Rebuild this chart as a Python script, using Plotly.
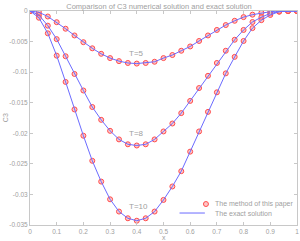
import plotly.graph_objects as go

x_vals = [i / 30 for i in range(31)]

c3_T5 = [0, -0.0002, -0.0009, -0.00183, -0.0029, -0.0040, -0.0051, -0.0061, -0.0070, -0.0077,
         -0.0082, -0.0085, -0.0086, -0.0085, -0.0083, -0.0077, -0.0072, -0.0065, -0.0058, -0.0049,
         -0.0040, -0.0031, -0.0023, -0.0016, -0.0010, -0.0006, -0.0003, -0.00012, 0, 0, 0]
c3_T8 = [0, -0.00065, -0.0024, -0.0046, -0.0074, -0.0103, -0.0130, -0.0157, -0.0178, -0.0196,
         -0.0210, -0.0218, -0.0220, -0.0218, -0.0210, -0.0197, -0.0184, -0.0167, -0.0147, -0.0126,
         -0.0106, -0.0085, -0.0065, -0.0047, -0.0031, -0.0018, -0.0010, -0.0004, -0.0001, 0, 0]
c3_T10 = [0, -0.0011, -0.00365, -0.0073, -0.0116, -0.0161, -0.0204, -0.0245, -0.0279, -0.0308,
          -0.0328, -0.0339, -0.0343, -0.0339, -0.0328, -0.0309, -0.0287, -0.0262, -0.0230, -0.0197,
          -0.0165, -0.0133, -0.0102, -0.0075, -0.0049, -0.0028, -0.0015, -0.00065, -0.0001, 0, 0]

series = [("T=5", c3_T5), ("T=8", c3_T8), ("T=10", c3_T10)]
label_pos = [(0.4, -0.0070), (0.4, -0.0200), (0.405, -0.0320)]
legend_names = ["The method of this paper", "The exact solution"]

x_ticks = [0, 0.1, 0.2, 0.3, 0.4, 0.5, 0.6, 0.7, 0.8, 0.9, 1]
x_ticktext = ["0", "0.1", "0.2", "0.3", "0.4", "0.5", "0.6", "0.7", "0.8", "0.9", "1"]
y_ticks = [0, -0.005, -0.01, -0.015, -0.02, -0.025, -0.03, -0.035]
y_ticktext = ["0", "-0.005", "-0.01", "-0.015", "-0.02", "-0.025", "-0.03", "-0.035"]

grey = "#a0a0a0"
fnt = "Liberation Sans"
mk_fill = "rgba(255,160,160,0.6)"
mk_line = "#ff4d4d"
ln_col = "#6b6bff"

fig = go.Figure()
for name, vals in series:
    fig.add_trace(go.Scatter(
        x=x_vals, y=vals, mode="markers", name=legend_names[0], showlegend=False,
        marker=dict(symbol="circle", size=5, color=mk_fill, line=dict(color=mk_line, width=1))))
for name, vals in series:
    fig.add_trace(go.Scatter(
        x=x_vals, y=vals, mode="lines", name=legend_names[1], showlegend=False,
        line=dict(color=ln_col, width=1)))

for (name, _), (lx, ly) in zip(series, label_pos):
    fig.add_annotation(x=lx, y=ly, text=name, showarrow=False,
                       font=dict(family=fnt, size=8, color=grey))

# legend (drawn manually to match the compact spacing)
W, H = 268.0, 214.0
mx, my = 0.659, 0.098
fig.add_shape(type="circle", xref="paper", yref="paper",
              x0=mx - 2.5 / W, x1=mx + 2.5 / W, y0=my - 2.5 / H, y1=my + 2.5 / H,
              fillcolor=mk_fill, line=dict(color=mk_line, width=1))
fig.add_shape(type="line", xref="paper", yref="paper",
              x0=0.56, x1=0.655, y0=0.056, y1=0.056, line=dict(color=ln_col, width=1))
for txt, ty in zip(legend_names, [my, 0.056]):
    fig.add_annotation(x=0.684, y=ty, xref="paper", yref="paper", text=txt,
                       showarrow=False, xanchor="left", yanchor="middle",
                       font=dict(family=fnt, size=7, color=grey))

# axis titles
fig.add_annotation(x=0.5, y=-0.058, xref="paper", yref="paper", text="x", showarrow=False,
                   yanchor="middle", font=dict(family=fnt, size=7, color=grey))
fig.add_annotation(x=-0.093, y=0.5, xref="paper", yref="paper", text="C3", showarrow=False,
                   textangle=-90, xanchor="center", font=dict(family=fnt, size=7, color=grey))

axis_common = dict(showline=True, linecolor="#c8c8c8", linewidth=1, mirror="ticks",
                   ticks="inside", ticklen=3, tickcolor="#c8c8c8", showgrid=False,
                   zeroline=False, automargin=False, ticklabeloverflow="allow",
                   tickfont=dict(family=fnt, size=6.5, color=grey))

fig.update_layout(
    width=300, height=241,
    margin=dict(l=30, r=3, t=11, b=16),
    paper_bgcolor="white", plot_bgcolor="white",
    title=dict(text="Comparison of C3 numerical solution and exact solution",
               x=0.53, xanchor="center", y=0.985, yanchor="top",
               font=dict(family=fnt, size=7.5, color=grey)),
    xaxis=dict(range=[0, 1.0001], tickvals=x_ticks, ticktext=x_ticktext, ticklabelstandoff=0,
               **axis_common),
    yaxis=dict(range=[-0.035, 0], tickvals=y_ticks, ticktext=y_ticktext, **axis_common),
    showlegend=False,
)

fig.write_html("out.html")
